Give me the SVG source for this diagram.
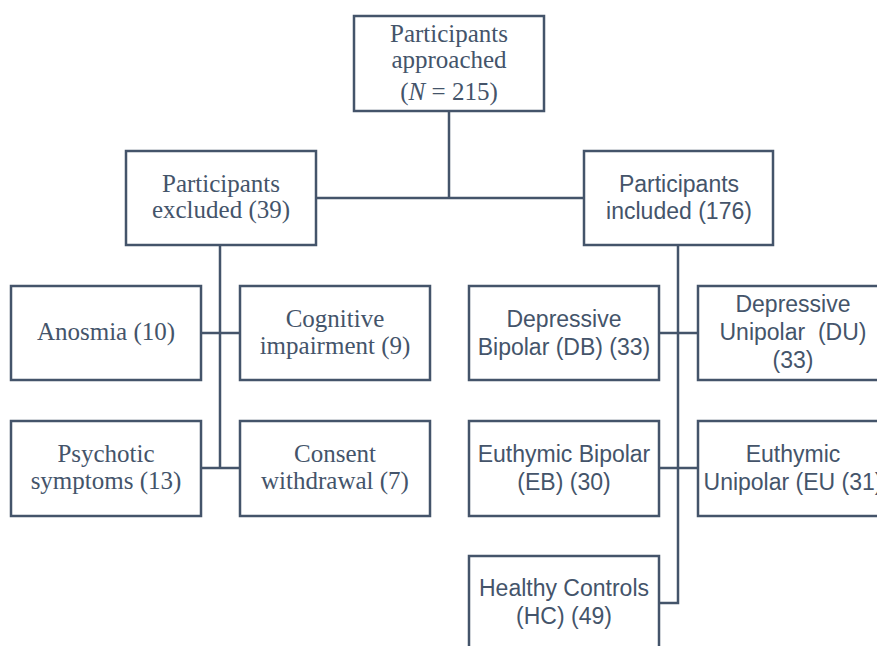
<svg xmlns="http://www.w3.org/2000/svg" width="877" height="646" viewBox="0 0 877 646">
<style>
.box{fill:#fff;stroke:#44546a;stroke-width:2.5}
.ln{fill:none;stroke:#44546a;stroke-width:2.5}
.s{font-family:"Liberation Serif","Times New Roman",serif;font-size:25px;fill:#44546a;text-anchor:middle}
.a{font-family:"Liberation Sans",Arial,sans-serif;font-size:23px;fill:#44546a;text-anchor:middle}
</style>
<rect width="877" height="646" fill="#fff"/>
<g id="connectors">
<path class="ln" d="M449,111 V198 M316,198 H584"/>
<path class="ln" d="M220,245 V468 M201,333 H240 M201,468 H240"/>
<path class="ln" d="M678,245 V603 H659 M659,333 H698 M659,468 H698"/>
</g>
<g id="approached"><rect class="box" x="354" y="16" width="190" height="95"/>
<text class="s" x="449" y="42">Participants</text><text class="s" x="449" y="68">approached</text><text class="s" x="449" y="100">(<tspan font-style="italic">N</tspan> = 215)</text></g>
<g id="excluded"><rect class="box" x="126" y="151" width="190" height="94"/>
<text class="s" x="221" y="192">Participants</text><text class="s" x="221" y="218">excluded (39)</text></g>
<g id="included"><rect class="box" x="584" y="151" width="189" height="94"/>
<text class="a" x="679" y="192">Participants</text><text class="a" x="679" y="219">included (176)</text></g>
<g id="anosmia"><rect class="box" x="11" y="286" width="190" height="94"/>
<text class="s" x="106" y="340">Anosmia (10)</text></g>
<g id="cognitive"><rect class="box" x="240" y="286" width="190" height="94"/>
<text class="s" x="335" y="327">Cognitive</text><text class="s" x="335" y="354">impairment (9)</text></g>
<g id="psychotic"><rect class="box" x="11" y="421" width="190" height="95"/>
<text class="s" x="106" y="462">Psychotic</text><text class="s" x="106" y="489">symptoms (13)</text></g>
<g id="consent"><rect class="box" x="240" y="421" width="190" height="95"/>
<text class="s" x="335" y="462">Consent</text><text class="s" x="335" y="489">withdrawal (7)</text></g>
<g id="db"><rect class="box" x="469" y="286" width="190" height="94"/>
<text class="a" x="564" y="327">Depressive</text><text class="a" x="564" y="355">Bipolar (DB) (33)</text></g>
<g id="du"><rect class="box" x="698" y="286" width="190" height="94"/>
<text class="a" x="793" y="312">Depressive</text><text class="a" x="793" y="340" xml:space="preserve">Unipolar  (DU)</text><text class="a" x="793" y="368">(33)</text></g>
<g id="eb"><rect class="box" x="469" y="421" width="190" height="95"/>
<text class="a" x="564" y="462">Euthymic Bipolar</text><text class="a" x="564" y="490">(EB) (30)</text></g>
<g id="eu"><rect class="box" x="698" y="421" width="190" height="95"/>
<text class="a" x="793" y="462">Euthymic</text><text class="a" x="793" y="490">Unipolar (EU (31)</text></g>
<g id="hc"><rect class="box" x="469" y="556" width="190" height="95"/>
<text class="a" x="564" y="596">Healthy Controls</text><text class="a" x="564" y="624">(HC) (49)</text></g>
</svg>
